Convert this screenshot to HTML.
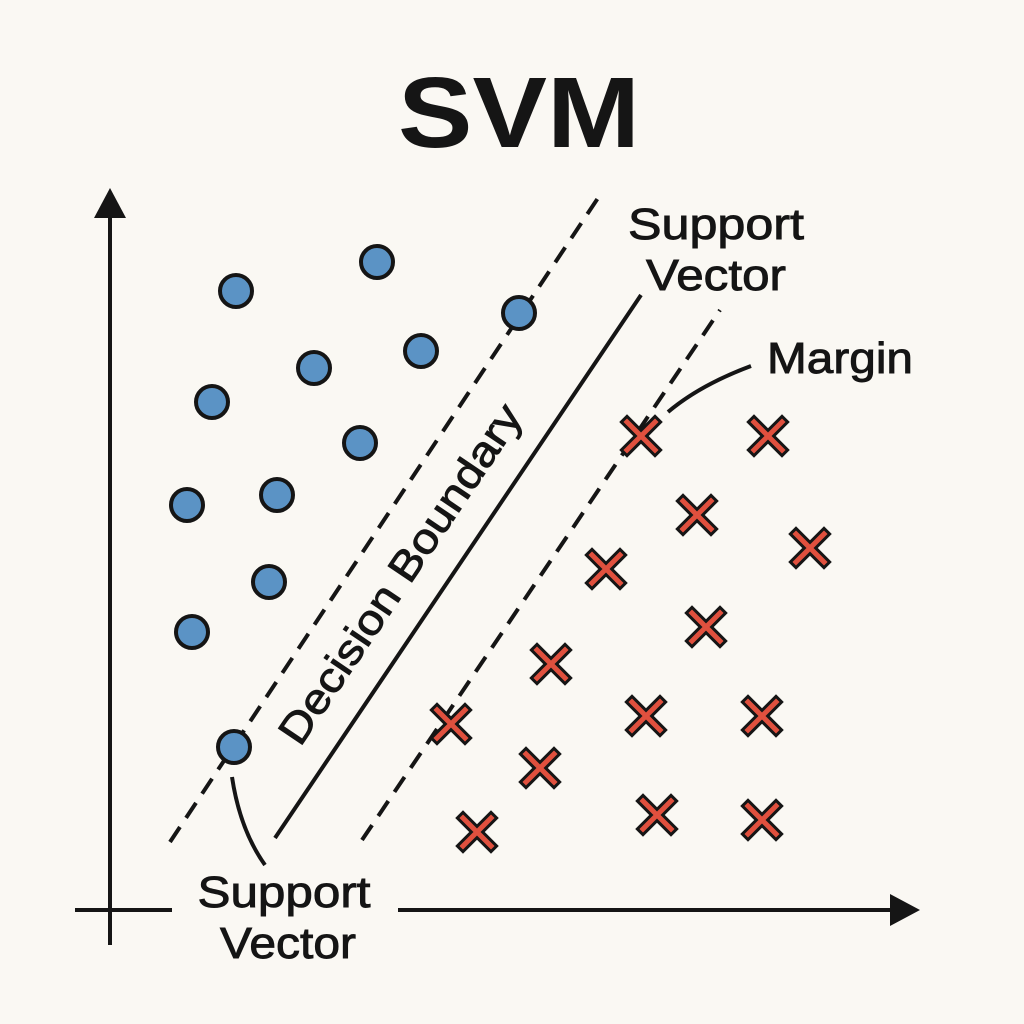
<!DOCTYPE html>
<html><head><meta charset="utf-8"><style>
html,body{margin:0;padding:0;background:#faf8f3;}
svg{display:block}
text{font-family:"Liberation Sans",sans-serif;fill:#151515}
</style></head><body>
<svg width="1024" height="1024" viewBox="0 0 1024 1024">
<rect width="1024" height="1024" fill="#faf8f3"/>
<text x="519" y="147" font-size="100" font-weight="bold" text-anchor="middle" textLength="242" lengthAdjust="spacingAndGlyphs">SVM</text>
<g stroke="#151515" stroke-width="4" fill="none" stroke-linecap="butt">
<line x1="110" y1="945" x2="110" y2="210"/>
<line x1="75" y1="910" x2="172" y2="910"/>
<line x1="398" y1="910" x2="895" y2="910"/>
<line x1="170" y1="842" x2="600" y2="195" stroke-dasharray="18,11"/>
<line x1="362" y1="840" x2="720" y2="310" stroke-dasharray="18,11"/>
<line x1="275" y1="838" x2="641" y2="295"/>
<path d="M668 412 Q700 385 751 366"/>
<path d="M232 777 Q240 830 265 865"/>
</g>
<polygon points="110,188 94,218 126,218" fill="#151515"/>
<polygon points="920,910 890,894 890,926" fill="#151515"/>
<g fill="#5b93c5" stroke="#151515" stroke-width="4">
<circle cx="236" cy="291" r="16"/><circle cx="377" cy="262" r="16"/><circle cx="519" cy="313" r="16"/>
<circle cx="314" cy="368" r="16"/><circle cx="421" cy="351" r="16"/><circle cx="212" cy="402" r="16"/>
<circle cx="360" cy="443" r="16"/><circle cx="187" cy="505" r="16"/><circle cx="277" cy="495" r="16"/>
<circle cx="269" cy="582" r="16"/><circle cx="192" cy="632" r="16"/><circle cx="234" cy="747" r="16"/>
</g>
<defs><g id="x"><path d="M-14,-14L14,14M14,-14L-14,14" stroke="#151515" stroke-width="11" stroke-linecap="square"/><path d="M-14,-14L14,14M14,-14L-14,14" stroke="#e0503e" stroke-width="5" stroke-linecap="square"/></g></defs>
<use href="#x" x="641" y="436"/><use href="#x" x="768" y="436"/><use href="#x" x="697" y="515"/>
<use href="#x" x="810" y="548"/><use href="#x" x="606" y="569"/><use href="#x" x="706" y="627"/>
<use href="#x" x="551" y="664"/><use href="#x" x="451" y="724"/><use href="#x" x="646" y="716"/>
<use href="#x" x="762" y="716"/><use href="#x" x="540" y="768"/><use href="#x" x="477" y="832"/>
<use href="#x" x="657" y="815"/><use href="#x" x="762" y="820"/>
<g font-size="44" stroke="#151515" stroke-width="0.9">
<text x="716" y="239" text-anchor="middle" textLength="176" lengthAdjust="spacingAndGlyphs">Support</text>
<text x="716" y="290" text-anchor="middle" textLength="140" lengthAdjust="spacingAndGlyphs">Vector</text>
<text x="840" y="373" text-anchor="middle" textLength="146" lengthAdjust="spacingAndGlyphs">Margin</text>
<text x="284" y="907" text-anchor="middle" textLength="173" lengthAdjust="spacingAndGlyphs">Support</text>
<text x="288" y="958" text-anchor="middle" textLength="136" lengthAdjust="spacingAndGlyphs">Vector</text>
<text x="0" y="0" font-size="42" text-anchor="middle" textLength="400" lengthAdjust="spacingAndGlyphs" transform="translate(412,582) rotate(-56)">Decision Boundary</text>
</g>
</svg>
</body></html>
